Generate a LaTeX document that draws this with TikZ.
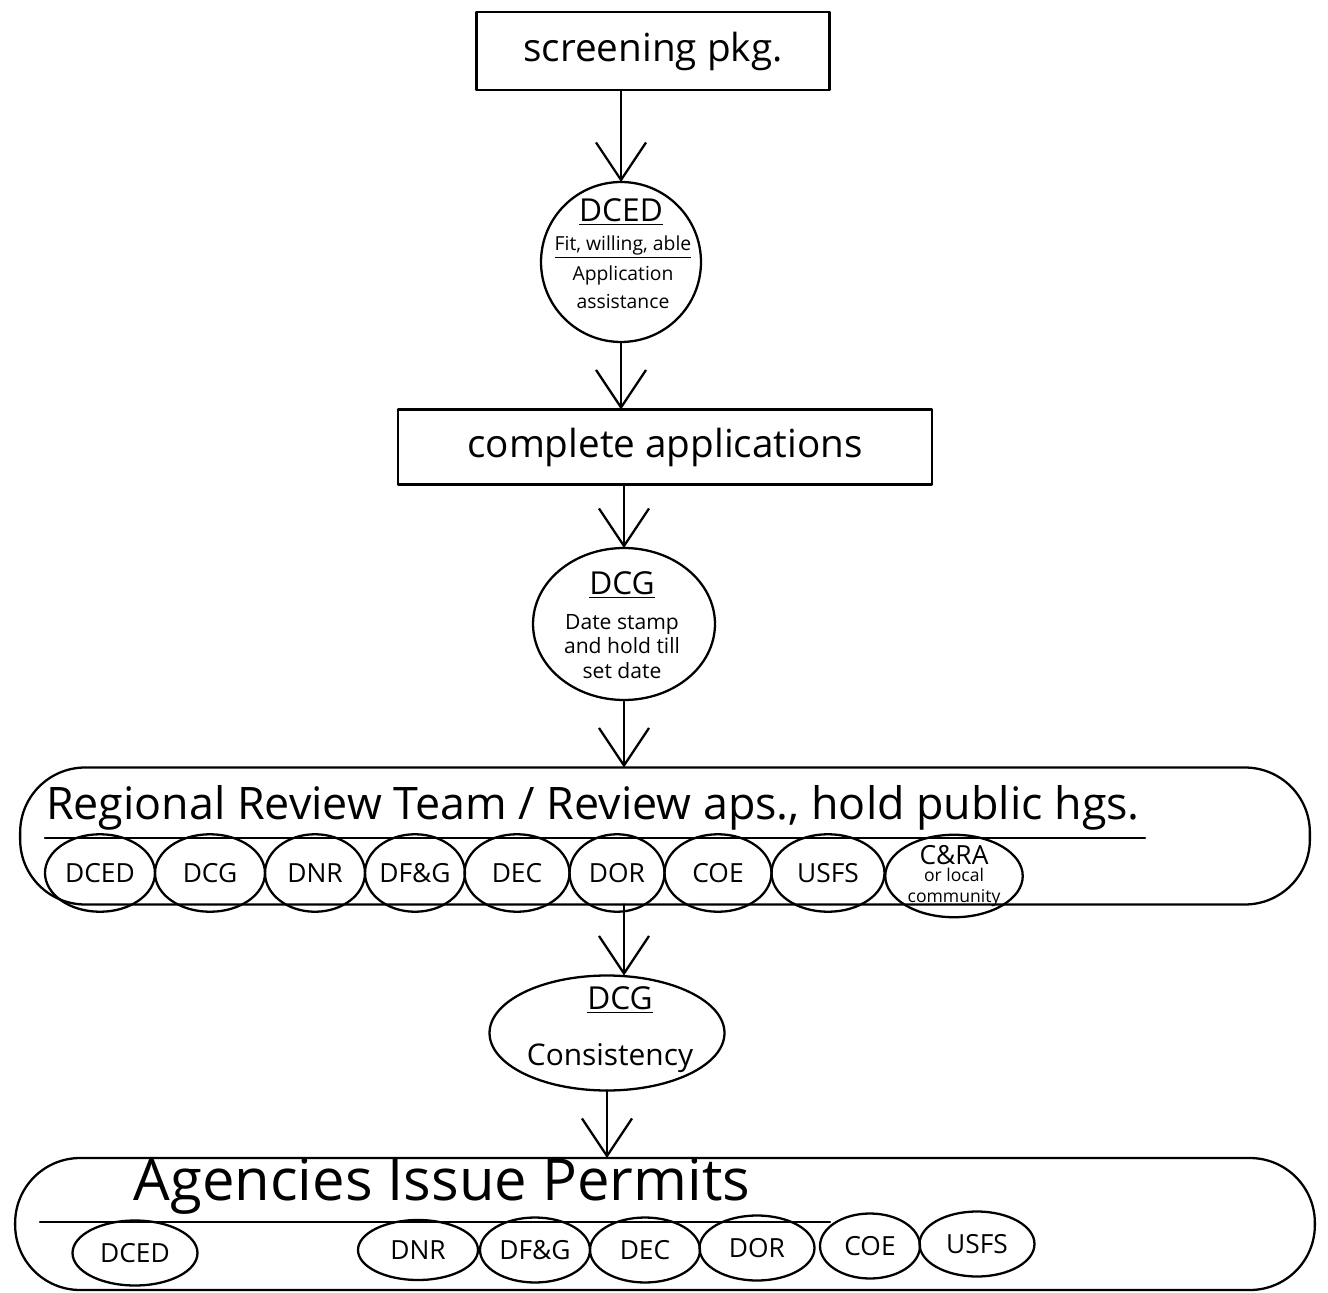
\documentclass[tikz,border=0pt]{standalone}
\usepackage{fontspec}
\setmainfont{Open Sans}
\usetikzlibrary{arrows.meta,shapes.geometric}
\begin{document}
\begin{tikzpicture}[x=0.02cm,y=-0.02cm, line width=1.3pt, line join=round, line cap=round,
  every node/.style={inner sep=0pt,outer sep=0pt},
  every label/.style={inner sep=0pt,align=center},
  stepbox/.style={draw,rectangle},
  ring/.style={draw,circle},
  bubble/.style={draw,ellipse},
  pod/.style={draw,rectangle,rounded corners=1.3cm},
  agency/.style={draw,ellipse,minimum height=1.55cm},
  agtext/.style={font=\fontsize{15}{18}\selectfont},
  arr/.style={-{Straight Barb[length=0.75cm,width=1cm]}},
  big/.style={font=\fontsize{18}{20}\selectfont},
  small/.style={font=\fontsize{11}{16}\selectfont}
]
\useasboundingbox (0,0) rectangle (1328,1293);

% top box
\node[stepbox, minimum width=7.06cm, minimum height=1.56cm, font=\fontsize{22}{26}\selectfont] (screen) at (653,51) {screening pkg.};

% DCED circle
\node[ring, minimum size=3.2cm] (dced) at (621,262) {};
\node[big] (dcedT) at (621,212) {\underline{DCED}};
\node[small, align=center, anchor=north] (dcedS) at (623,236) {\underline{Fit, willing, able}\\[1pt]Application\\assistance};

% complete applications
\node[stepbox, minimum width=10.68cm, minimum height=1.5cm, font=\fontsize{22}{26}\selectfont] (complete) at (665,447) {complete applications};

% DCG 1
\node[bubble, minimum width=3.64cm, minimum height=3.04cm] (dcg) at (624,624) {};
\node[big] (dcgT) at (622,585) {\underline{DCG}};
\node[font=\fontsize{12}{14}\selectfont, align=center, anchor=north] (dcgS) at (622,614) {Date stamp\\and hold till\\set date};

% Regional review team
\node[pod, minimum width=25.8cm, minimum height=2.74cm] (regional) at (665,836) {};
\node[font=\fontsize{25.5}{28}\selectfont] (rtitle) at (593,808) {Regional Review Team / Review aps., hold public hgs.};
\draw (45,838) -- (1145,838);
\node[agency, minimum width=2.2cm, label={[agtext]center:DCED}] (r1) at (100,873) {};
\node[agency, minimum width=2.2cm, label={[agtext]center:DCG}] (r2) at (210,873) {};
\node[agency, minimum width=2.0cm, label={[agtext]center:DNR}] (r3) at (315,873) {};
\node[agency, minimum width=2.0cm, label={[agtext]center:DF\&G}] (r4) at (415,873) {};
\node[agency, minimum width=2.1cm, label={[agtext]center:DEC}] (r5) at (517,873) {};
\node[agency, minimum width=1.9cm, label={[agtext]center:DOR}] (r6) at (617,873) {};
\node[agency, minimum width=2.14cm, label={[agtext]center:COE}] (r7) at (718,873) {};
\node[agency, minimum width=2.26cm, label={[agtext]center:USFS}] (r8) at (828,873) {};
\node[agency, minimum width=2.75cm, minimum height=1.65cm, label={[align=center]center:{\fontsize{15}{18}\selectfont C\&RA}\\[-2pt]{\fontsize{10}{12}\selectfont or local}\\{\fontsize{10}{12}\selectfont community}}] (r9) at (954,876) {};

% DCG consistency
\node[bubble, minimum width=4.7cm, minimum height=2.3cm] (dcg2) at (607,1033) {};
\node[big] (dcg2T) at (620,1000) {\underline{DCG}};
\node[font=\fontsize{17}{20}\selectfont] (dcg2S) at (610,1058) {Consistency};

% Agencies issue permits
\node[pod, minimum width=26cm, minimum height=2.64cm] (agencies) at (665,1224) {};
\node[font=\fontsize{33}{38}\selectfont] (atitle) at (442,1186) {Agencies Issue Permits};
\draw (40,1222) -- (830,1222);
\node[agency, minimum width=2.5cm, minimum height=1.3cm, label={[agtext]center:DCED}] (a1) at (135,1253) {};
\node[agency, minimum width=2.4cm, minimum height=1.2cm, label={[agtext]center:DNR}] (a2) at (418,1250) {};
\node[agency, minimum width=2.2cm, minimum height=1.3cm, label={[agtext]center:DF\&G}] (a3) at (535,1250) {};
\node[agency, minimum width=2.2cm, minimum height=1.3cm, label={[agtext]center:DEC}] (a4) at (645,1250) {};
\node[agency, minimum width=2.3cm, minimum height=1.3cm, label={[agtext]center:DOR}] (a5) at (757,1248) {};
\node[agency, minimum width=2.0cm, minimum height=1.3cm, label={[agtext]center:COE}] (a6) at (870,1246) {};
\node[agency, minimum width=2.3cm, minimum height=1.3cm, label={[agtext]center:USFS}] (a7) at (977,1244) {};

% connectors
\draw[arr] (screen.south -| dced.north) -- (dced.north);
\draw[arr] (dced.south) -- (complete.north -| dced.south);
\draw[arr] (complete.south -| dcg.north) -- (dcg.north);
\draw[arr] (dcg.south) -- (regional.north -| dcg.south);
\draw[arr] (regional.south -| dcg.south) -- (dcg2.north -| dcg.south);
\draw[arr] (dcg2.south) -- (agencies.north -| dcg2.south);
\end{tikzpicture}
\end{document}
